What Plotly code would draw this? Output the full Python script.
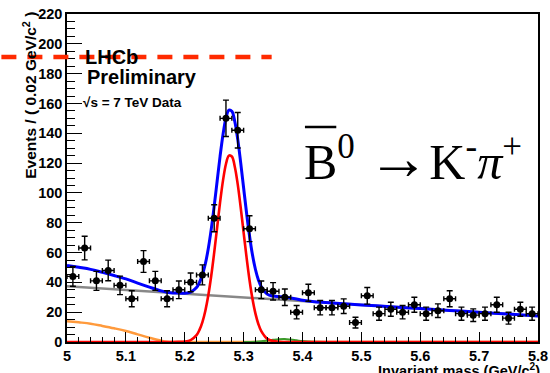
import plotly.graph_objects as go

# ---------------- data ----------------
bin_centers = [5.01, 5.03, 5.05, 5.07, 5.09, 5.11, 5.13, 5.15, 5.17, 5.19,
               5.21, 5.23, 5.25, 5.27, 5.29, 5.31, 5.33, 5.35, 5.37, 5.39,
               5.41, 5.43, 5.45, 5.47, 5.49, 5.51, 5.53, 5.55, 5.57, 5.59,
               5.61, 5.63, 5.65, 5.67, 5.69, 5.71, 5.73, 5.75, 5.77, 5.79]
events = [44, 63, 41, 48, 38, 29, 54, 41, 29, 35,
          40, 45, 83, 150, 142, 76, 35, 34, 30, 20,
          33, 23, 23, 24, 13, 31, 19, 22, 20, 25,
          19, 21, 29, 19, 18, 19, 25, 16, 22, 19]
events_err = [6.6, 7.9, 6.4, 6.9, 6.2, 5.4, 7.3, 6.4, 5.4, 5.9,
              6.3, 6.7, 9.1, 12.2, 11.9, 8.7, 5.9, 5.8, 5.5, 4.5,
              5.7, 4.8, 4.8, 4.9, 3.6, 5.6, 4.4, 4.7, 4.5, 5.0,
              4.4, 4.6, 5.4, 4.4, 4.2, 4.4, 5.0, 4.0, 4.7, 4.4]
bin_half_width = [0.01] * len(bin_centers)

# total fit (blue)
fit_x = [5.00, 5.02, 5.04, 5.06, 5.08, 5.10, 5.12, 5.14, 5.16, 5.17,
         5.18, 5.19, 5.20, 5.21, 5.22, 5.225, 5.23, 5.235, 5.24, 5.245,
         5.25, 5.255, 5.26, 5.265, 5.27, 5.275, 5.28, 5.285, 5.29, 5.295,
         5.30, 5.305, 5.31, 5.315, 5.32, 5.325, 5.33, 5.34, 5.35, 5.36,
         5.37, 5.38, 5.39, 5.40, 5.42, 5.45, 5.50, 5.55, 5.60, 5.65,
         5.70, 5.75, 5.80]
fit_total = [51.4, 50.1, 48.7, 46.7, 44.6, 42.3, 39.5, 36.8, 34.3, 33.4,
             32.9, 32.8, 32.7, 33.5, 36.5, 39.9, 45.1, 52.5, 62.7, 75.7,
             91.1, 107.8, 124.5, 139.2, 150.1, 155.5, 154.8, 147.9, 135.9, 120.3,
             103.3, 86.5, 71.3, 58.5, 48.8, 41.8, 37.0, 32.1, 30.8, 30.4,
             30.1, 29.5, 28.8, 28.0, 27.0, 26.2, 24.9, 23.7, 22.4, 21.2,
             19.9, 18.7, 17.4]

# signal (red)
sig_x = [5.00, 5.18, 5.19, 5.20, 5.21, 5.22, 5.225, 5.23, 5.235, 5.24,
         5.245, 5.25, 5.255, 5.26, 5.265, 5.27, 5.275, 5.28, 5.285, 5.29,
         5.295, 5.30, 5.305, 5.31, 5.315, 5.32, 5.325, 5.33, 5.34, 5.35,
         5.36, 5.37, 5.80]
sig_y = [0.0, 0.0, 0.1, 0.3, 1.3, 4.6, 8.1, 13.4, 21.0, 31.3,
         44.4, 59.9, 76.8, 93.6, 108.4, 119.4, 125.0, 124.4, 117.6, 105.7,
         90.3, 73.4, 56.7, 41.6, 29.0, 19.2, 12.1, 7.3, 2.2, 0.6,
         0.1, 0.0, 0.0]

# combinatorial background (grey)
comb_x = [5.00, 5.80]
comb_y = [37.4, 17.4]

# partially reconstructed background (orange)
part_x = [5.00, 5.02, 5.04, 5.06, 5.08, 5.10, 5.12, 5.14, 5.16, 5.17, 5.18, 5.80]
part_y = [14.0, 13.2, 12.3, 10.8, 9.2, 7.4, 5.1, 2.9, 0.9, 0.2, 0.0, 0.0]

# small cross-feed component (green)
xf_x = [5.30, 5.32, 5.33, 5.34, 5.35, 5.36, 5.37, 5.38, 5.39, 5.40, 5.41, 5.42, 5.44]
xf_y = [0.0, 0.2, 0.5, 1.0, 1.5, 1.9, 2.0, 1.6, 1.1, 0.6, 0.3, 0.1, 0.0]

x_ticks = [5.0, 5.1, 5.2, 5.3, 5.4, 5.5, 5.6, 5.7, 5.8]
x_tick_text = ["5", "5.1", "5.2", "5.3", "5.4", "5.5", "5.6", "5.7", "5.8"]

# ---------------- figure ----------------
W, H = 550, 373
L, R, T, B = 67, 2, 14, 31
pw, ph = W - L - R, H - T - B


def px(x):
    return (x - L) / pw


def py(y):
    return (H - B - y) / ph


fig = go.Figure()
fig.add_trace(go.Scatter(x=comb_x, y=comb_y, mode="lines",
                         line=dict(color="#888888", width=2.5), showlegend=False))
fig.add_trace(go.Scatter(x=part_x, y=part_y, mode="lines", line_shape="spline",
                         line=dict(color="#ff9a3c", width=2.5), showlegend=False))
fig.add_trace(go.Scatter(x=xf_x, y=xf_y, mode="lines", line_shape="spline",
                         line=dict(color="#3c9a2a", width=2), showlegend=False))
fig.add_trace(go.Scatter(x=sig_x, y=sig_y, mode="lines", line_shape="spline",
                         line=dict(color="#ff0000", width=2.6), showlegend=False))
fig.add_trace(go.Scatter(x=fit_x, y=fit_total, mode="lines", line_shape="spline",
                         line=dict(color="#0000ff", width=3), showlegend=False))
fig.add_trace(go.Scatter(
    x=bin_centers, y=events, mode="markers",
    marker=dict(color="black", size=7),
    error_y=dict(type="data", array=events_err, color="black", thickness=1.4, width=3),
    error_x=dict(type="data", array=bin_half_width, color="black", thickness=1.4, width=2.5),
    showlegend=False))

font_sans = "Liberation Sans, Arial, sans-serif"
fig.update_layout(
    width=W, height=H,
    margin=dict(l=L, r=R, t=T, b=B, pad=0),
    paper_bgcolor="white", plot_bgcolor="white",
    font=dict(family=font_sans, color="black"),
    xaxis=dict(range=[5.0, 5.8], tickvals=x_ticks, ticktext=x_tick_text,
               ticks="inside", ticklen=10, tickwidth=1.2, tickcolor="black",
               minor=dict(dtick=0.02, ticks="inside", ticklen=5, tickwidth=1.2, tickcolor="black"),
               showline=True, linecolor="black", linewidth=1.5, mirror=True,
               showgrid=False, zeroline=False, ticklabeloverflow="allow",
               tickfont=dict(size=14.5, family=font_sans, weight="bold")),
    yaxis=dict(range=[0, 220], dtick=20, tick0=0,
               ticks="inside", ticklen=15, tickwidth=1.2, tickcolor="black",
               minor=dict(dtick=5, ticks="inside", ticklen=8, tickwidth=1.2, tickcolor="black"),
               showline=True, linecolor="black", linewidth=1.5, mirror=True,
               showgrid=False, zeroline=False, ticklabeloverflow="allow",
               tickfont=dict(size=14.5, family=font_sans, weight="bold")),
)

fig.add_shape(type="line", xref="paper", yref="paper",
              x0=px(0), x1=px(276), y0=py(57), y1=py(57),
              line=dict(color="#ff2a00", width=4.5, dash="15px,11px"), layer="above")
# overline of the B-bar
fig.add_shape(type="line", xref="paper", yref="paper",
              x0=px(310), x1=px(342), y0=py(127), y1=py(127),
              line=dict(color="black", width=2.5), layer="above")

ann = [
    dict(text="Events / ( 0.02 GeV/c<sup>2</sup> )", x=px(29), y=py(95), textangle=-90,
         xanchor="center", yanchor="middle", font=dict(size=15.5, weight="bold")),
    dict(text="Invariant mass (GeV/c<sup>2</sup>)", x=px(552), y=py(359),
         xanchor="right", yanchor="top", font=dict(size=14.5, weight="bold")),
    dict(text="LHCb", x=px(83), y=py(57), xanchor="left", yanchor="middle",
         font=dict(size=20, weight="bold")),
    dict(text="Preliminary", x=px(85), y=py(76.5), xanchor="left", yanchor="middle",
         font=dict(size=20, weight="bold")),
    dict(text="√s = 7 TeV Data", x=px(81), y=py(102.5), xanchor="left", yanchor="middle",
         font=dict(size=13.5, weight="bold")),
    dict(text="B<sup>0</sup> <span style='font-size:62px'>→</span>K<sup>-</sup><i>π</i><sup>+</sup>",
         x=px(307), y=py(158),
         xanchor="left", yanchor="middle",
         font=dict(size=50, family="Liberation Serif, Times New Roman, serif", color="black")),
]
for a in ann:
    a.update(xref="paper", yref="paper", showarrow=False)
    fig.add_annotation(**a)

fig.write_html("out.html")
